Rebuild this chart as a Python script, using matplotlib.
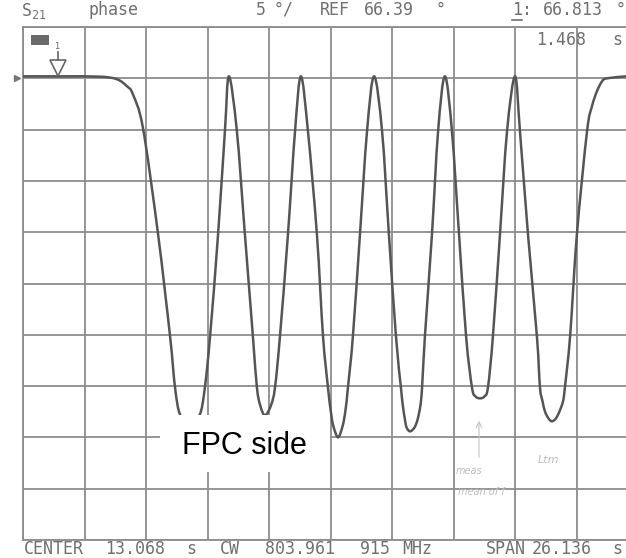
import matplotlib.pyplot as plt
from matplotlib.patches import Rectangle, PathPatch
from matplotlib.path import Path
from matplotlib.lines import Line2D

# odczyt z wykresu: czas [s] i faza S21 [deg]
czas = [0.0, 1.57, 3.27, 3.99, 4.42, 4.67, 5.10, 5.74, 6.25, 6.46,
        6.67, 7.10, 7.52, 7.73, 7.95, 8.29, 8.58, 8.75,
        9.09, 9.43, 9.77, 9.94, 10.08, 10.28, 10.54, 10.71, 10.92, 11.26, 11.56, 11.81,
        12.11, 12.49, 12.75, 12.96, 13.07, 13.18, 13.39, 13.59, 13.71, 13.81,
        14.02, 14.32, 14.62, 14.92,
        15.26, 15.55, 15.85, 16.06, 16.14, 16.23, 16.30, 16.45, 16.64, 16.77, 16.89, 16.96,
        17.08, 17.38, 17.64, 17.93,
        18.23, 18.53, 18.83, 19.08, 19.23, 19.42, 19.61, 19.76,
        19.97, 20.27, 20.57, 20.91,
        21.12, 21.46, 21.84, 21.97, 22.08, 22.18, 22.33, 22.48, 22.65, 22.80, 22.95, 23.03,
        23.25, 23.54, 23.97, 24.18, 24.39, 24.61, 24.82, 25.63]
faza = [66.58, 66.58, 66.55, 66.30, 65.61, 64.83, 61.52, 51.19, 41.24, 36.27,
        33.64, 32.47, 33.64, 36.27, 41.24, 51.19, 61.22, 66.58,
        61.22, 51.19, 41.24, 36.27, 34.52, 33.54, 34.52, 36.27, 41.24, 51.19, 61.22, 66.58,
        61.22, 51.19, 41.24, 36.27, 34.13, 32.57, 31.40, 32.57, 34.13, 36.27,
        41.24, 51.19, 61.22, 66.58,
        61.22, 51.19, 41.24, 36.27, 34.52, 33.15, 32.37, 31.98, 32.37, 33.15, 34.52, 36.27,
        41.24, 51.19, 61.22, 66.58,
        61.22, 51.19, 41.24, 36.27, 35.39, 35.20, 35.39, 36.27,
        41.24, 51.19, 61.22, 66.58,
        61.22, 51.19, 41.24, 36.27, 34.91, 33.93, 33.25, 32.96, 33.25, 33.93, 34.91, 36.27,
        41.24, 51.19, 61.22, 63.66, 65.12, 66.10, 66.39, 66.58]

ref = 66.39
skala = 5.0
span = 26.136
marker_t = 1.468
marker_val = 66.813

W, H = 626, 558


def px(x, y):
    return x / W, 1 - y / H


def gladka_sciezka(x, y):
    # krzywe Beziera przez punkty (Catmull-Rom), tylko do rysowania
    pts = list(zip(x, y))
    verts = [pts[0]]
    codes = [Path.MOVETO]
    n = len(pts)
    for i in range(n - 1):
        p0 = pts[max(i - 1, 0)]
        p1 = pts[i]
        p2 = pts[i + 1]
        p3 = pts[min(i + 2, n - 1)]
        c1 = (p1[0] + (p2[0] - p0[0]) / 6, p1[1] + (p2[1] - p0[1]) / 6)
        c2 = (p2[0] - (p3[0] - p1[0]) / 6, p2[1] - (p3[1] - p1[1]) / 6)
        verts += [c1, c2, p2]
        codes += [Path.CURVE4] * 3
    return Path(verts, codes)


fig = plt.figure(figsize=(W / 100, H / 100), dpi=100)
ax = fig.add_axes([23 / W, (H - 540) / H, 615 / W, 513 / H])

dol = ref - 9 * skala
ax.set_xlim(0, span)
ax.set_ylim(dol, dol + 10 * skala)
ax.set_xticks([span / 10 * i for i in range(11)])
ax.set_yticks([dol + skala * i for i in range(11)])
ax.tick_params(length=0, labelbottom=False, labelleft=False)
ax.grid(True, color='#8c8c8c', linewidth=1.3)
for s in ax.spines.values():
    s.set_color('#8c8c8c')
    s.set_linewidth(1.3)

ax.add_patch(PathPatch(gladka_sciezka(czas, faza), facecolor='none',
                       edgecolor='#555555', linewidth=1.8, zorder=3))

# znacznik 1
ax.plot([marker_t], [ref + 1.0], marker='v', markersize=11, markerfacecolor='white',
        markeredgecolor='#666666', markeredgewidth=1.2, zorder=4)
ax.plot([marker_t, marker_t], [ref + 1.8, ref + 2.6], color='#666666', linewidth=1.2, zorder=4)
ax.text(marker_t, ref + 2.7, '1', fontsize=6, color='#666666', ha='center', va='bottom',
        family='DejaVu Sans Mono')
# strzalka poziomu odniesienia
ax.plot([-0.25], [ref], marker='>', markersize=5, color='#777777', clip_on=False)

fig.patches.append(Rectangle(px(31, 45), 18 / W, 10 / H, transform=fig.transFigure,
                             facecolor='#6a6a6a', edgecolor='none'))

kol = '#707070'
mono = dict(family='DejaVu Sans Mono', color=kol, fontsize=12, va='center')
fig.text(*px(21, 11), r'$\mathregular{S_{21}}$', fontsize=12, color=kol, va='center',
         family='DejaVu Sans Mono')
fig.text(*px(88, 10), 'phase', **mono)
fig.text(*px(256, 10), '5', **mono)
fig.text(*px(274, 10), '°/', **mono)
fig.text(*px(320, 10), 'REF', **mono)
fig.text(*px(364, 10), '66.39', **mono)
fig.text(*px(436, 10), '°', **mono)
fig.text(*px(512, 10), '1:', **mono)
fig.add_artist(Line2D([512 / W, 522 / W], [1 - 20 / H, 1 - 20 / H], color=kol, linewidth=1.2))
fig.text(*px(543, 10), '%.3f' % marker_val, **mono)
fig.text(*px(616, 10), '°', **mono)
fig.text(*px(536, 40), '%.3f' % marker_t, **mono)
fig.text(*px(612, 40), 's', **mono)
fig.text(*px(24, 549), 'CENTER', **mono)
fig.text(*px(105, 549), '13.068', **mono)
fig.text(*px(186, 549), 's', **mono)
fig.text(*px(220, 549), 'CW', **mono)
fig.text(*px(265, 549), '803.961', **mono)
fig.text(*px(360, 549), '915', **mono)
fig.text(*px(402, 549), 'MHz', **mono)
fig.text(*px(486, 549), 'SPAN', **mono)
fig.text(*px(532, 549), '26.136', **mono)
fig.text(*px(612, 549), 's', **mono)

# odreczne dopiski
ax.annotate('', xy=px(479, 418), xytext=px(479, 460), xycoords='figure fraction',
            arrowprops=dict(arrowstyle='->', color='#c4c4c4', lw=0.8))
fig.text(*px(456, 471), 'meas', fontsize=7, color='#bdbdbd', style='italic', va='center')
fig.text(*px(538, 460), 'Ltm', fontsize=8, color='#bdbdbd', style='italic', va='center')
fig.text(*px(458, 492), 'mean of f', fontsize=7, color='#bdbdbd', style='italic', va='center')

# opis
fig.patches.append(Rectangle(px(160, 472), 170 / W, 57 / H, transform=fig.transFigure,
                             facecolor='white', edgecolor='none', zorder=5))
t = fig.text(*px(244, 446), 'FPC side', fontsize=22, family='Liberation Sans',
             color='black', ha='center', va='center')
t.set_zorder(6)

plt.savefig('out.png', dpi=100)
